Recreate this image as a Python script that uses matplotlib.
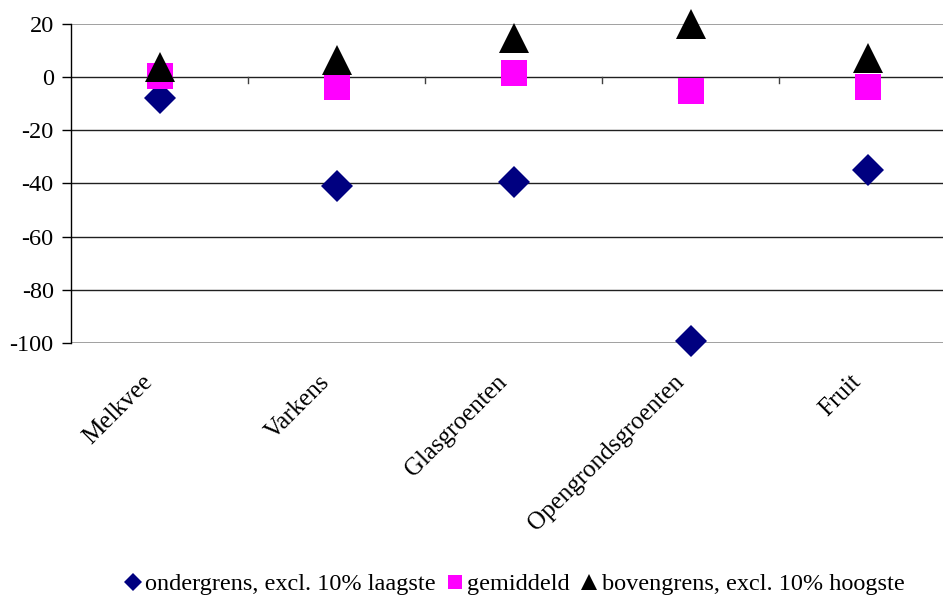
import matplotlib
matplotlib.use("Agg")
import matplotlib.pyplot as plt
import numpy as np

categories = ["Melkvee", "Varkens", "Glasgroenten", "Opengrondsgroenten", "Fruit"]
ondergrens = [-8.0, -40.9, -39.4, -99.3, -35.1]
gemiddeld = [0.4, -3.8, 1.5, -5.1, -3.8]
bovengrens = [3.8, 6.4, 14.6, 19.9, 7.1]
series_labels = ["ondergrens, excl. 10% laagste", "gemiddeld", "bovengrens, excl. 10% hoogste"]
yticks = [20, 0, -20, -40, -60, -80, -100]

plt.rcParams['font.family'] = ['Liberation Serif', 'DejaVu Serif']

W, H = 943, 598
fig = plt.figure(figsize=(W / 100, H / 100), dpi=100)
left, right, top, bottom = 71, 956, 24, 343
ax = fig.add_axes([left / W, 1 - bottom / H, (right - left) / W, (bottom - top) / H])

x = np.arange(len(categories))
ax.set_xlim(-0.5, len(categories) - 0.5)
ax.set_ylim(-100, 20)

for y in yticks:
    col = '#909090' if y in (20, -100) else '#202020'
    ax.axhline(y, color=col, lw=1.2 if y in (20, -100) else 1.0, zorder=1)

for sp in ['top', 'right', 'bottom']:
    ax.spines[sp].set_visible(False)
ax.spines['left'].set_color('black')
ax.spines['left'].set_linewidth(1.0)

ax.set_yticks(yticks)
ax.set_yticklabels([str(v) for v in yticks], fontsize=17.5)
ax.tick_params(axis='y', length=6.5, width=1, color='black', pad=6)

# category ticks on the zero line
ax.set_xticks([])
for b in np.arange(0.5, len(categories) - 0.5, 1.0):
    ax.plot([b, b], [0, -2.2], color='#404040', lw=1.0, zorder=2, clip_on=False)

# category labels below plot
for xi, c in zip(x, categories):
    ax.annotate(c, xy=(xi, -100), xycoords='data', xytext=(-13, -20), textcoords='offset points',
                rotation=45, rotation_mode='anchor', ha='right', va='top', fontsize=18)

h1, = ax.plot(x, ondergrens, linestyle='none', marker='D', ms=16, color='#000080', zorder=3,
              markeredgewidth=0, label=series_labels[0], clip_on=False)
h2, = ax.plot(x, gemiddeld, linestyle='none', marker='s', ms=19, color='#FF00FF', zorder=4,
              markeredgewidth=0, label=series_labels[1], clip_on=False)
h3, = ax.plot(x, bovengrens, linestyle='none', marker='^', ms=21, color='#000000', zorder=5,
              markeredgewidth=0, label=series_labels[2], clip_on=False)

leg = fig.legend(handles=[h1, h2, h3], loc='center', bbox_to_anchor=(515 / W, 1 - 584 / H),
                 ncol=3, frameon=False, fontsize=17.5, handlelength=0.6, handletextpad=0.2,
                 columnspacing=0.5, markerscale=0.55, borderpad=0)

fig.savefig("out.png", dpi=100)
